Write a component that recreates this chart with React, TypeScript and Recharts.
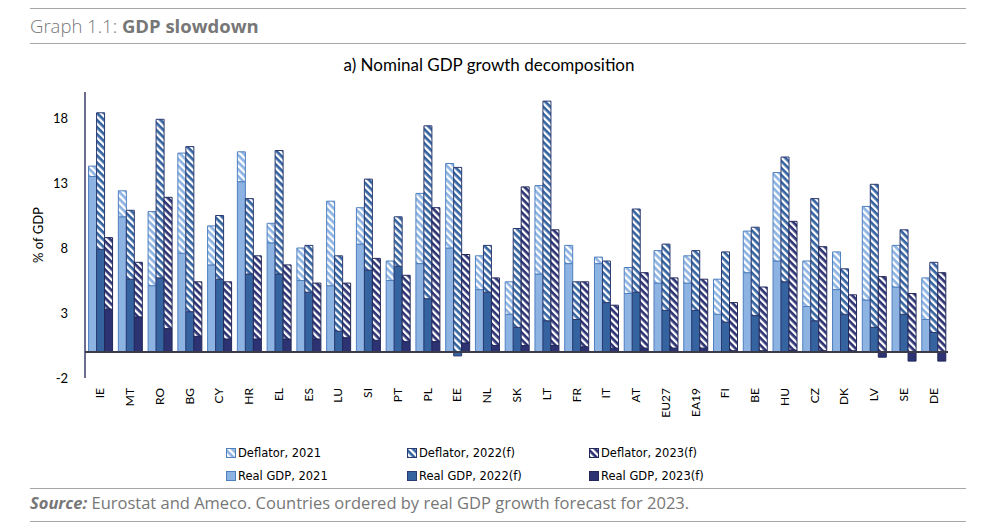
import { Bar, BarChart, ReferenceLine, XAxis, YAxis } from "recharts";

const countries = [
  "IE", "MT", "RO", "BG", "CY", "HR", "EL", "ES", "LU", "SI", "PT", "PL", "EE", "NL",
  "SK", "LT", "FR", "IT", "AT", "EU27", "EA19", "FI", "BE", "HU", "CZ", "DK", "LV", "SE", "DE",
];

// real GDP growth and GDP deflator, %
const real2021 = [13.5, 10.4, 5.1, 7.6, 6.7, 13.1, 8.4, 5.5, 5.1, 8.3, 5.5, 6.8, 8.0, 4.8, 2.9, 6.0, 6.8, 6.8, 4.5, 5.3, 5.3, 2.9, 6.1, 7.0, 3.5, 4.8, 4.0, 5.0, 2.5];
const deflator2021 = [0.8, 2.0, 5.7, 7.7, 3.0, 2.3, 1.5, 2.5, 6.5, 2.8, 1.5, 5.4, 6.5, 2.6, 2.5, 6.8, 1.4, 0.5, 2.0, 2.5, 2.1, 2.7, 3.2, 6.8, 3.5, 2.9, 7.2, 3.2, 3.2];
const real2022 = [7.9, 5.6, 5.7, 3.1, 5.6, 6.0, 6.0, 4.6, 1.6, 6.3, 6.6, 4.1, -0.3, 4.6, 1.9, 2.4, 2.5, 3.8, 4.6, 3.2, 3.2, 2.3, 2.8, 5.4, 2.4, 2.9, 1.9, 2.9, 1.5];
const deflator2022 = [10.5, 5.3, 12.2, 12.7, 4.9, 5.8, 9.5, 3.6, 5.8, 7.0, 3.8, 13.3, 14.2, 3.6, 7.6, 16.9, 2.9, 3.2, 6.4, 5.1, 4.6, 5.4, 6.8, 9.6, 9.4, 3.5, 11.0, 6.5, 5.4];
const real2023 = [3.3, 2.7, 1.8, 1.2, 1.0, 1.0, 1.0, 1.0, 1.1, 0.9, 0.8, 0.8, 0.7, 0.5, 0.5, 0.5, 0.4, 0.3, 0.3, 0.3, 0.3, 0.1, 0.1, 0.15, 0.1, 0.1, -0.4, -0.7, -0.7];
const deflator2023 = [5.5, 4.2, 10.1, 4.2, 4.4, 6.4, 5.7, 4.3, 4.2, 6.3, 5.1, 10.3, 6.8, 5.2, 12.2, 8.9, 5.0, 3.3, 5.8, 5.4, 5.3, 3.7, 4.9, 9.9, 8.0, 4.3, 5.8, 4.5, 6.1];

const yTicks = [-2, 3, 8, 13, 18];

const data = countries.map((country, i) => ({
  country,
  real21: real2021[i],
  def21: deflator2021[i],
  real22: real2022[i],
  def22: deflator2022[i],
  real23: real2023[i],
  def23: deflator2023[i],
}));

const c21 = "#8db3e2";
const c22 = "#35639f";
const c23 = "#2c3272";

const legendItems = [
  { label: "Deflator, 2021", fill: "url(#hatch21)", stroke: "#4f7fbf", left: 226, top: 446 },
  { label: "Deflator, 2022(f)", fill: "url(#hatch22)", stroke: "#2b3a70", left: 407, top: 446 },
  { label: "Deflator, 2023(f)", fill: "url(#hatch23)", stroke: "#22285a", left: 589, top: 446 },
  { label: "Real GDP, 2021", fill: c21, stroke: "#4f7fbf", left: 226, top: 469 },
  { label: "Real GDP, 2022(f)", fill: c22, stroke: "#2b3a70", left: 407, top: 469 },
  { label: "Real GDP, 2023(f)", fill: c23, stroke: "#22285a", left: 589, top: 469 },
];

const Hatch = ({ id, color }: { id: string; color: string }) => (
  <pattern id={id} width="5" height="5" patternUnits="userSpaceOnUse" patternTransform="rotate(-45)">
    <rect width="5" height="5" fill={color} />
    <rect width="2.3" height="5" fill="#ffffff" />
  </pattern>
);

const CountryTick = ({ x, y, payload }: any) => (
  <text
    x={x}
    y={y + 2}
    transform={`rotate(-90 ${x} ${y + 2})`}
    textAnchor="end"
    dominantBaseline="central"
    fontSize={12}
    fontFamily="Lato, sans-serif"
    fill="#000"
  >
    {payload.value}
  </text>
);

const rule = (top: number) => (
  <div style={{ position: "absolute", left: 30, top, width: 936, height: 1, background: "#a6a6a6" }} />
);

export default function App() {
  return (
    <div style={{ position: "absolute", left: 0, top: 0, width: 990, height: 524, background: "#fff", fontFamily: "'Open Sans', sans-serif" }}>
      <svg width="0" height="0" style={{ position: "absolute" }}>
        <defs>
          <Hatch id="hatch21" color={c21} />
          <Hatch id="hatch22" color={c22} />
          <Hatch id="hatch23" color={c23} />
        </defs>
      </svg>

      {rule(8)}
      <div style={{ position: "absolute", left: 30, top: 13, fontSize: 18.5, color: "#777", whiteSpace: "nowrap" }}>
        <span style={{ fontWeight: 300 }}>Graph 1.1:</span> <b>GDP slowdown</b>
      </div>
      {rule(43)}

      <div style={{ position: "absolute", left: 0, width: 978, top: 54, textAlign: "center", fontSize: 17, fontFamily: "Lato, sans-serif", color: "#000" }}>
        a) Nominal GDP growth decomposition
      </div>

      <div style={{ position: "absolute", left: 0, top: 0 }}>
        <BarChart
          width={990}
          height={440}
          data={data}
          margin={{ top: 92, right: 42, left: 0, bottom: 0 }}
          barCategoryGap="12%"
          barGap={0}
          stackOffset="sign"
        >
          <XAxis dataKey="country" height={62} axisLine={false} tickLine={false} interval={0} tick={<CountryTick />} />
          <YAxis
            width={85}
            domain={[-2, 20]}
            ticks={yTicks}
            allowDataOverflow
            axisLine={{ stroke: "#3b3d66", strokeWidth: 1.5 }}
            tickLine={false}
            tickSize={0}
            tickMargin={17}
            tick={{ fontSize: 13, fill: "#000", fontFamily: "Lato, sans-serif" }}
            label={{ value: "% of GDP", angle: -90, position: "insideLeft", offset: 38, style: { fontSize: 13, fill: "#000", fontFamily: "Lato, sans-serif", textAnchor: "middle" } }}
          />
          <Bar dataKey="real21" stackId="y21" fill={c21} stroke="#4f7fbf" isAnimationActive={false} />
          <Bar dataKey="def21" stackId="y21" fill="url(#hatch21)" stroke="#4f7fbf" isAnimationActive={false} />
          <Bar dataKey="real22" stackId="y22" fill={c22} stroke="#2b3a70" isAnimationActive={false} />
          <Bar dataKey="def22" stackId="y22" fill="url(#hatch22)" stroke="#2b3a70" isAnimationActive={false} />
          <Bar dataKey="real23" stackId="y23" fill={c23} stroke="#22285a" isAnimationActive={false} />
          <Bar dataKey="def23" stackId="y23" fill="url(#hatch23)" stroke="#22285a" isAnimationActive={false} />
          <ReferenceLine y={0} stroke="#3a3a48" strokeWidth={2} />
        </BarChart>
      </div>

      {legendItems.map((item) => (
        <div key={item.label} style={{ position: "absolute", left: item.left, top: item.top, display: "flex", alignItems: "center", fontFamily: "'DejaVu Sans', sans-serif", fontSize: 11.5, color: "#000", whiteSpace: "nowrap" }}>
          <svg width="10" height="10" style={{ marginRight: 2 }}>
            <rect x="0.5" y="0.5" width="9" height="9" fill={item.fill} stroke={item.stroke} />
          </svg>
          {item.label}
        </div>
      ))}

      {rule(488)}
      <div style={{ position: "absolute", left: 30, top: 491, fontSize: 16.5, color: "#777", whiteSpace: "nowrap" }}>
        <b><i>Source:</i></b> Eurostat and Ameco. Countries ordered by real GDP growth forecast for 2023.
      </div>
      {rule(521)}
    </div>
  );
}
